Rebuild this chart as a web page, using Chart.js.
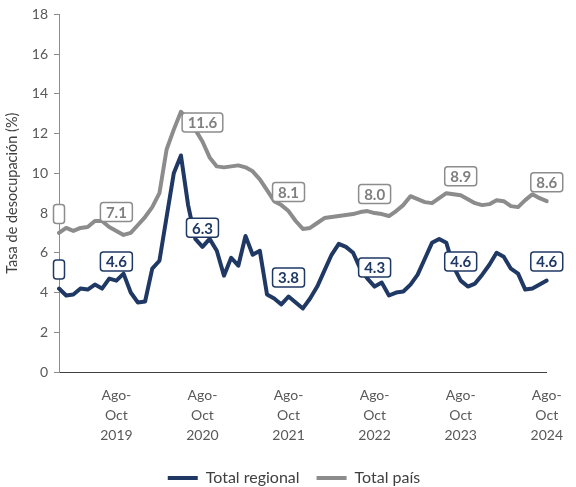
<!DOCTYPE html>
<html>
<head>
<meta charset="utf-8">
<script src="https://cdn.jsdelivr.net/npm/chart.js@4/dist/chart.umd.min.js"></script>
<style>
  body { margin: 0; background: #fff; }
  #wrap { width: 576px; height: 487px; }
</style>
</head>
<body>
<div id="wrap"><canvas id="chart" width="576" height="487"></canvas></div>
<script>
// trimestres móviles, desde Dic-Feb 2019 hasta Ago-Oct 2024
var quarterNames = ['Dic-Feb', 'Ene-Mar', 'Feb-Abr', 'Mar-May', 'Abr-Jun', 'May-Jul',
    'Jun-Ago', 'Jul-Sep', 'Ago-Oct', 'Sep-Nov', 'Oct-Dic', 'Nov-Ene'];
var firstYear = 2019;
var periodCount = 69;

var totalRegional = [
    4.2, 3.85, 3.9, 4.2, 4.15, 4.4, 4.2, 4.7, 4.6, 4.95, 4.0, 3.5,
    3.55, 5.2, 5.6, 7.8, 10.0, 10.9, 8.4, 6.7, 6.3, 6.7, 6.1, 4.85,
    5.75, 5.35, 6.85, 5.9, 6.1, 3.9, 3.7, 3.4, 3.8, 3.5, 3.2, 3.7,
    4.3, 5.1, 5.9, 6.45, 6.3, 6.0, 5.2, 4.7, 4.3, 4.5, 3.85, 4.0,
    4.05, 4.4, 4.9, 5.7, 6.5, 6.7, 6.5, 5.3, 4.6, 4.3, 4.45, 4.9,
    5.4, 6.0, 5.8, 5.2, 4.95, 4.15, 4.2, 4.4, 4.6
];
var totalPais = [
    7.0, 7.25, 7.1, 7.25, 7.3, 7.6, 7.6, 7.3, 7.1, 6.9, 7.0, 7.4,
    7.8, 8.3, 9.0, 11.2, 12.2, 13.1, 12.7, 12.2, 11.6, 10.8, 10.35, 10.3,
    10.35, 10.4, 10.3, 10.1, 9.7, 9.15, 8.6, 8.4, 8.1, 7.6, 7.2, 7.25,
    7.5, 7.75, 7.8, 7.85, 7.9, 7.95, 8.05, 8.1, 8.0, 7.95, 7.85, 8.1,
    8.4, 8.85, 8.7, 8.55, 8.5, 8.75, 9.0, 8.95, 8.9, 8.7, 8.5, 8.4,
    8.45, 8.65, 8.6, 8.35, 8.3, 8.65, 8.95, 8.75, 8.6
];
// puntos con etiqueta (el primero sale como caja vacía)
var labelledPoints = [0, 8, 20, 32, 44, 56, 68];
var yTicks = [0, 2, 4, 6, 8, 10, 12, 14, 16, 18];

var navy = '#1f3864';
var grey = '#8c8c8c';
var fontName = 'Lato';

var periods = [];
for (var i = 0; i < periodCount; i++) {
    var q = quarterNames[i % 12];
    var year = firstYear + Math.floor((i + 1) / 12);
    if (i % 12 === 0) year = firstYear + Math.floor(i / 12);
    periods.push(q + ' ' + year);
}

var boxLabels = {
    id: 'boxLabels',
    afterLayout: function (chart) {
        // la leyenda va algo corrida a la derecha
        chart.legend.left += 16;
        chart.legend.right += 16;
    },
    afterDatasetsDraw: function (chart) {
        var ctx = chart.ctx;
        ctx.save();
        ctx.font = 'bold 15px ' + fontName;
        ctx.textAlign = 'center';
        ctx.textBaseline = 'middle';
        chart.data.datasets.forEach(function (ds, di) {
            var meta = chart.getDatasetMeta(di);
            labelledPoints.forEach(function (idx) {
                var pt = meta.data[idx];
                var txt = idx === 0 ? '' : ds.data[idx].toFixed(1);
                var w = ctx.measureText(txt).width + 11;
                var h = 19;
                var cx = pt.x, cy = pt.y - 19;
                ctx.beginPath();
                ctx.roundRect(cx - w / 2, cy - h / 2, w, h, 3);
                ctx.fillStyle = '#fff';
                ctx.fill();
                ctx.lineWidth = 1.5;
                ctx.strokeStyle = ds.borderColor;
                ctx.stroke();
                ctx.fillStyle = ds.labelColor;
                ctx.fillText(txt, cx, cy + 1);
            });
        });
        ctx.restore();
    }
};

new Chart(document.getElementById('chart'), {
    type: 'line',
    data: {
        labels: periods,
        datasets: [
            {
                label: 'Total regional',
                data: totalRegional,
                borderColor: navy,
                backgroundColor: navy,
                labelColor: navy,
                borderWidth: 4
            },
            {
                label: 'Total país',
                data: totalPais,
                borderColor: grey,
                backgroundColor: grey,
                labelColor: '#7f7f7f',
                borderWidth: 4
            }]
    },
    options: {
        responsive: false,
        animation: false,
        devicePixelRatio: 1,
        layout: { padding: { left: 0, right: 20, top: 12, bottom: 0 } },
        elements: {
            point: { radius: 0 },
            line: { tension: 0, borderJoinStyle: 'round', borderCapStyle: 'round' }
        },
        plugins: {
            tooltip: { enabled: false },
            legend: {
                position: 'bottom',
                maxHeight: 34,
                labels: {
                    font: { family: fontName, size: 16 },
                    color: '#404040',
                    boxWidth: 30,
                    boxHeight: 4,
                    padding: 17,
                    generateLabels: function (chart) {
                        return chart.data.datasets.map(function (ds, i) {
                            return {
                                text: ds.label,
                                fillStyle: ds.borderColor,
                                strokeStyle: ds.borderColor,
                                lineWidth: 0,
                                fontColor: '#404040',
                                datasetIndex: i
                            };
                        });
                    }
                }
            }
        },
        scales: {
            x: {
                grid: { display: false, drawTicks: false },
                border: { color: '#404040', width: 1 },
                ticks: {
                    autoSkip: false,
                    maxRotation: 0,
                    padding: 13,
                    color: '#595959',
                    font: { family: fontName, size: 14, lineHeight: 20 / 14 },
                    callback: function (value) {
                        var lab = this.getLabelForValue(value);
                        if (lab.indexOf('Ago-Oct') !== 0) return '';
                        return ['Ago-', 'Oct', lab.split(' ')[1]];
                    }
                },
                afterFit: function (scale) { scale.height = 81; }
            },
            y: {
                min: yTicks[0],
                max: yTicks[yTicks.length - 1],
                afterBuildTicks: function (scale) {
                    scale.ticks = yTicks.map(function (v) { return { value: v }; });
                },
                grid: { display: true, drawOnChartArea: false, tickLength: 5, color: '#8c8c8c' },
                border: { color: '#8c8c8c', width: 1 },
                ticks: {
                    color: '#595959',
                    padding: 6,
                    font: { family: fontName, size: 14 }
                },
                title: {
                    display: true,
                    text: 'Tasa de desocupación (%)',
                    color: '#404040',
                    font: { family: fontName, size: 14.5 },
                    padding: { top: 4, bottom: 0 }
                },
                afterFit: function (scale) { scale.width = 59; }
            }
        }
    },
    plugins: [boxLabels]
});
</script>
</body>
</html>
